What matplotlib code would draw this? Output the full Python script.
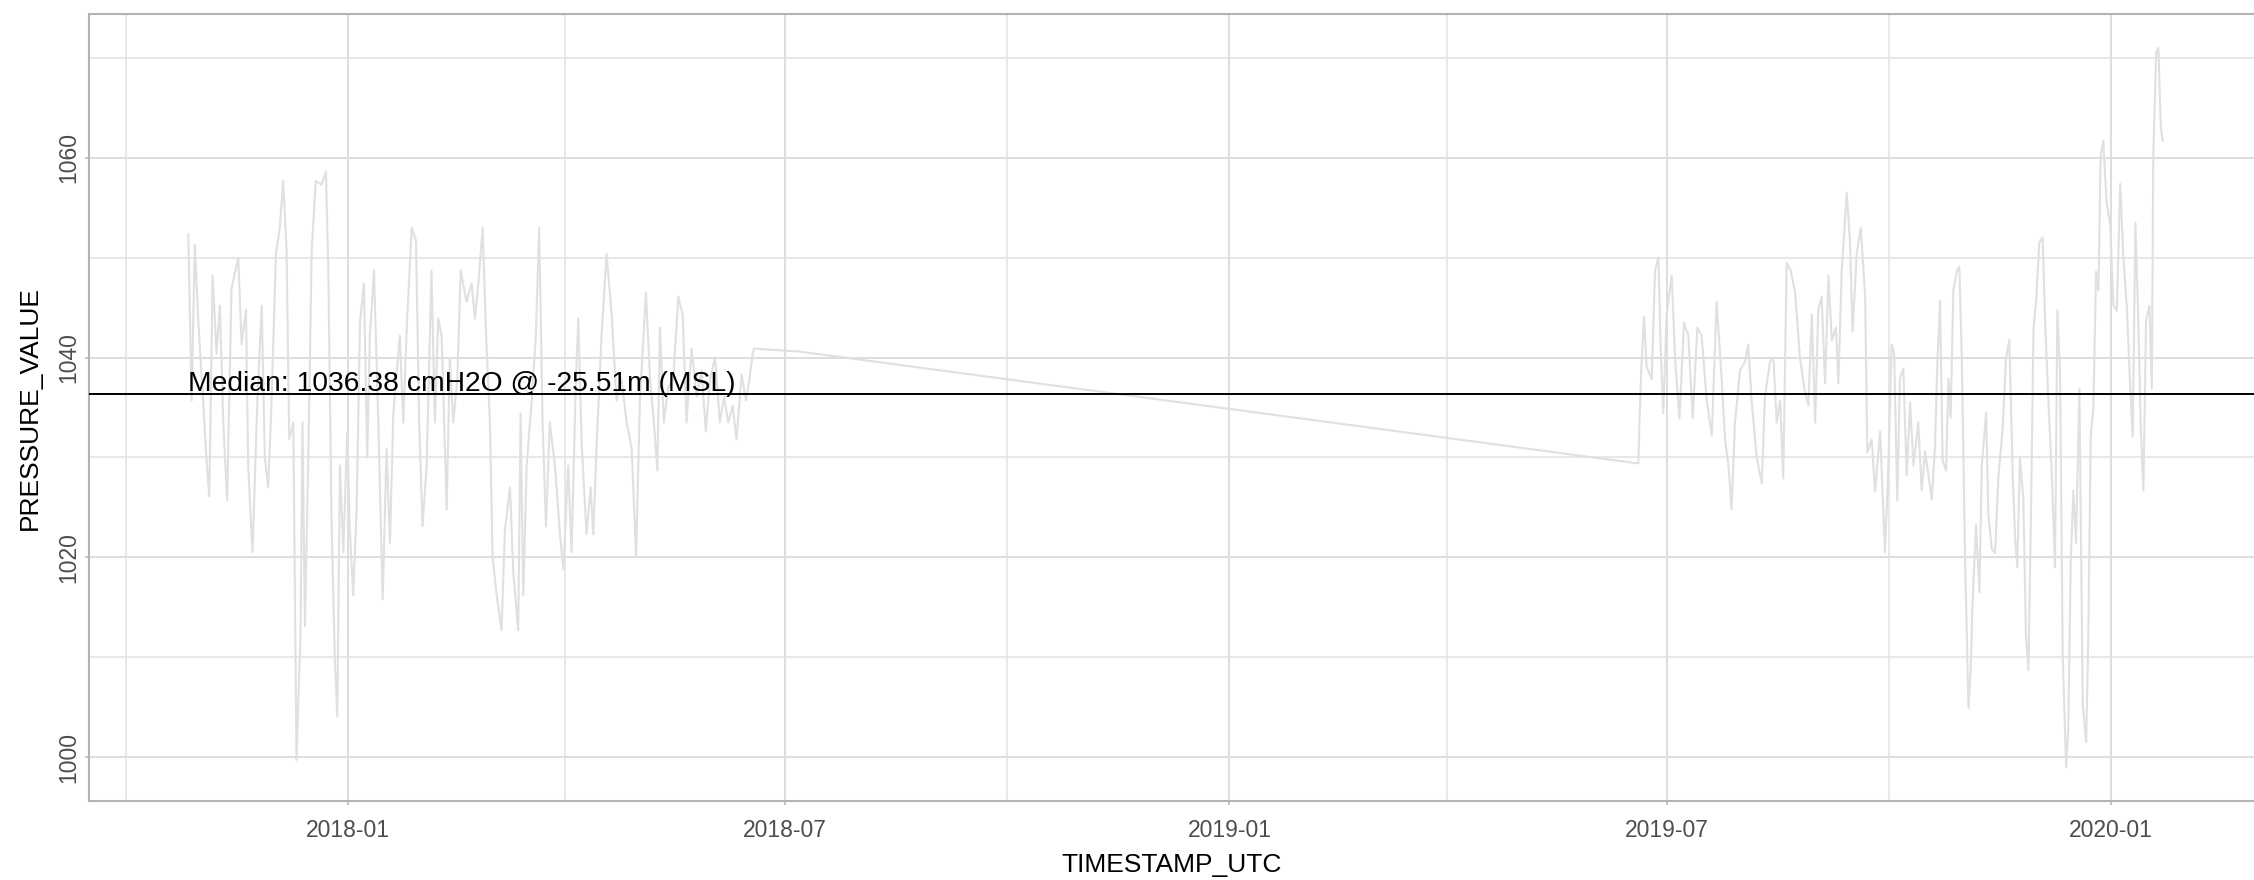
import numpy as np
import pandas as pd
import matplotlib
matplotlib.use('Agg')
import matplotlib.pyplot as plt
import matplotlib.dates as mdates
from matplotlib.ticker import MultipleLocator

plt.rcParams['font.family'] = ['Liberation Sans', 'DejaVu Sans']

# Datas: dias desde 2018-01-01
ORIGEM = pd.Timestamp('2018-01-01')

dias_inicio = [-66.1, -64.7, -63.4, -62.0, -58.5, -57.4, -56.0, -54.4, -53.0, -51.6,
               -50.0, -48.2, -45.4, -44.0, -42.2, -41.3, -39.5, -37.5, -35.7, -34.4,
               -33.0, -31.6, -29.8, -28.2, -26.8, -25.4, -24.3, -22.6, -21.3, -19.6,
               -18.8, -17.8, -16.4, -15.0, -13.3, -10.9, -9.1, -8.1, -6.8, -5.4,
               -4.4, -3.3, -1.9, -0.3, 0.8, 2.2, 3.6, 5.0, 6.6, 8.0,
               9.1, 10.8, 12.6, 14.4, 16.0, 17.4, 18.8, 21.5, 22.9, 24.6,
               26.4, 28.2, 29.5, 30.9, 32.6, 34.6, 36.0, 37.4, 38.8, 40.9,
               42.2, 43.6, 45.3, 46.7,
               49.1, 51.2, 52.6, 54.0, 55.8, 57.1, 58.8, 59.9, 61.6, 63.6,
               65.0, 67.1, 68.5, 70.5, 71.5, 72.6, 74.0, 76.1, 77.8, 79.2,
               80.6, 82.0, 83.6, 85.7, 87.8, 89.2, 91.2, 92.6, 94.4, 95.4,
               96.8, 98.8, 100.5, 101.6, 103.0, 105.0, 107.1, 109.2, 111.2, 113.3,
               115.4, 117.5, 119.3, 120.9, 123.4, 125.1, 126.7, 128.1, 129.2, 130.8,
               132.6, 134.7, 136.8, 138.6, 140.2, 142.3, 144.4, 146.4, 148.2, 149.9,
               152.0, 154.0, 155.7, 157.5, 159.3, 160.9, 163.0, 164.8, 166.2, 167.6]
pressao_inicio = [1052.3, 1035.7, 1051.3, 1043.9, 1029.6, 1026.1, 1048.2, 1040.4, 1045.2, 1033.5,
                  1025.7, 1046.9, 1050.0, 1041.3, 1044.8, 1029.2, 1020.5, 1035.7, 1045.2, 1030.0,
                  1027.0, 1035.7, 1050.4, 1053.0, 1057.7, 1050.8, 1031.8, 1033.5, 999.7, 1012.7,
                  1033.5, 1013.1, 1030.0, 1050.8, 1057.7, 1057.3, 1058.6, 1048.7, 1024.0, 1009.7,
                  1004.1, 1029.2, 1020.5, 1032.6, 1022.7, 1016.2, 1024.8, 1043.5, 1047.4, 1030.0,
                  1042.2, 1048.7, 1033.5, 1015.8, 1030.9, 1021.4, 1034.4, 1042.2, 1033.5, 1044.3,
                  1053.0, 1051.7, 1033.5, 1023.1, 1029.2, 1048.7, 1033.5, 1043.9, 1042.2, 1024.8,
                  1040.0, 1033.5, 1037.8, 1048.7,
                  1045.6, 1047.4, 1043.9, 1047.4, 1053.0, 1043.0, 1033.5, 1020.1, 1016.2, 1012.7,
                  1022.7, 1027.0, 1018.4, 1012.7, 1034.4, 1016.2, 1029.2, 1035.7, 1042.2, 1053.0,
                  1033.5, 1023.1, 1033.5, 1029.2, 1022.3, 1018.8, 1029.2, 1020.5, 1037.8, 1043.9,
                  1031.3, 1022.3, 1027.0, 1022.3, 1031.3, 1042.2, 1050.4, 1044.3, 1035.7, 1037.8,
                  1033.5, 1030.9, 1020.1, 1035.7, 1046.5, 1037.8, 1033.5, 1028.7, 1043.0, 1033.5,
                  1037.0, 1037.8, 1046.1, 1044.3, 1033.5, 1040.9, 1036.1, 1038.7, 1032.6, 1037.8,
                  1040.0, 1033.5, 1036.1, 1033.5, 1035.2, 1031.8, 1038.3, 1035.7, 1037.8, 1040.4]

# Intervalo sem medições (linha ligando os dois períodos)
dias_lacuna = [168.2, 187.0]
pressao_lacuna = [1040.9, 1040.6]

dias_fim = [534.3, 534.7, 535.7, 536.6, 537.7, 539.8, 541.2, 542.6, 543.5, 544.6,
            546.0, 548.1, 549.5, 551.3, 553.2, 555.0, 556.8, 558.7, 560.5, 562.6,
            564.7, 566.7, 568.8, 570.2, 571.6, 572.9, 574.3, 576.4, 578.5, 579.8,
            581.2, 583.3, 585.4, 586.7, 588.8, 590.2, 591.6, 593.0, 594.3, 595.7,
            597.4, 599.2, 601.2, 603.3, 604.7, 606.1, 607.5, 608.8, 610.2, 611.6,
            613.0, 614.4, 616.1, 617.1, 618.5, 620.6, 621.9, 623.0, 624.7, 626.4,
            628.2, 629.1, 630.9, 632.3, 634.4, 636.4, 637.8, 639.2, 640.2, 641.5,
            642.6, 644.0, 645.4, 646.8, 648.2, 650.2, 651.6, 653.0, 654.4, 655.8,
            657.1, 658.1, 659.2, 660.3, 661.7, 662.7, 663.6, 664.7, 666.1, 667.2,
            668.2, 669.6, 671.0, 671.9, 672.7, 674.1, 675.5, 676.5, 678.3, 679.2,
            680.6, 682.0, 683.4, 685.2, 686.5, 687.9, 689.3, 690.3, 691.2, 692.3,
            693.7, 694.8, 695.8, 696.8, 697.9, 699.0, 700.3, 701.7, 702.7, 704.1,
            705.5, 706.8, 707.8, 708.9, 710.0, 711.4, 712.3, 713.3, 714.4, 715.5,
            716.9, 718.3, 719.7, 720.6, 721.6, 722.7, 723.8, 724.8, 725.7, 726.8,
            728.2, 729.6, 731.0, 732.4, 733.8, 735.1, 736.5, 737.9, 739.0, 740.1,
            741.3, 742.3, 743.4, 744.5, 745.9, 746.9, 747.5, 748.7, 749.6, 750.6,
            751.4]
pressao_fim = [1029.4, 1033.1, 1040.0, 1044.1, 1039.1, 1037.8, 1048.7, 1050.0, 1041.3, 1034.4,
               1044.3, 1048.2, 1040.0, 1033.9, 1043.5, 1042.2, 1033.9, 1043.0, 1042.2, 1035.7,
               1032.2, 1045.6, 1037.8, 1031.8, 1029.2, 1024.8, 1033.5, 1038.7, 1039.6, 1041.3,
               1035.7, 1030.0, 1027.4, 1036.1, 1039.6, 1040.0, 1033.5, 1035.7, 1027.9, 1049.5,
               1048.7, 1046.5, 1040.0, 1036.5, 1035.2, 1044.3, 1033.5, 1044.8, 1046.1, 1037.4,
               1048.2, 1041.7, 1043.0, 1037.4, 1048.7, 1056.5, 1051.7, 1042.6, 1050.4, 1053.0,
               1046.1, 1030.5, 1031.8, 1026.6, 1032.6, 1020.5, 1029.2, 1041.3, 1040.4, 1025.7,
               1037.9, 1038.9, 1028.2, 1035.5, 1029.2, 1033.5, 1026.7, 1030.6, 1028.2, 1025.8,
               1031.1, 1039.4, 1045.7, 1029.6, 1028.7, 1037.9, 1034.0, 1046.7, 1048.6, 1049.1,
               1040.3, 1019.4, 1004.9, 1008.7, 1015.6, 1023.3, 1016.5, 1029.2, 1034.5, 1024.3,
               1020.9, 1020.4, 1028.2, 1033.1, 1039.9, 1041.8, 1028.2, 1021.9, 1019.0, 1030.1,
               1025.8, 1012.1, 1008.7, 1023.3, 1042.8, 1045.7, 1051.5, 1052.0, 1043.7, 1035.5,
               1028.2, 1019.0, 1044.7, 1038.4, 1010.2, 999.0, 1002.9, 1019.4, 1026.7, 1021.4,
               1036.9, 1005.3, 1001.5, 1012.1, 1032.1, 1035.0, 1048.6, 1046.7, 1060.3, 1061.7,
               1055.4, 1053.5, 1045.2, 1044.7, 1057.4, 1050.1, 1045.2, 1037.4, 1032.1, 1053.5,
               1043.7, 1033.1, 1026.7, 1043.7, 1045.2, 1036.9, 1060.3, 1070.5, 1071.0, 1063.2,
               1061.7]

MEDIANA = 1036.38
texto_mediana = 'Median: 1036.38 cmH2O @ -25.51m (MSL)'

dias = np.array(dias_inicio + dias_lacuna + dias_fim)
pressao = np.array(pressao_inicio + pressao_lacuna + pressao_fim)
datas = ORIGEM + pd.to_timedelta(dias, unit='D')

# Figura
W, H = 2254, 880
fig = plt.figure(figsize=(W / 100, H / 100), dpi=100)
esq, topo, base = 89, 14, 801
ax = fig.add_axes([esq / W, (H - base) / H, 1 - esq / W, (base - topo) / H])

ax.plot(datas, pressao, color='#e0e0e0', lw=1.5, zorder=2)
ax.axhline(MEDIANA, color='black', lw=1.4, zorder=3)
ax.text(datas[0], MEDIANA + 0.25, texto_mediana, fontsize=20.3, color='black',
        ha='left', va='baseline', zorder=4)

ax.set_xlim(ORIGEM - pd.Timedelta(days=107.2), ORIGEM + pd.Timedelta(days=789.2))
ax.set_ylim(995.6, 1074.4)

ax.xaxis.set_major_locator(mdates.MonthLocator(bymonth=[1, 7]))
ax.xaxis.set_minor_locator(mdates.MonthLocator(bymonth=[4, 10]))
ax.xaxis.set_major_formatter(mdates.DateFormatter('%Y-%m'))
ax.yaxis.set_major_locator(MultipleLocator(20))
ax.yaxis.set_minor_locator(MultipleLocator(10))

ax.grid(which='major', color='#dedede', lw=1.4, zorder=0)
ax.grid(which='minor', color='#e2e2e2', lw=1.1, zorder=0)
ax.set_axisbelow(True)

for lado in ['left', 'top', 'bottom']:
    ax.spines[lado].set_color('#b3b3b3')
    ax.spines[lado].set_linewidth(1.5)
ax.spines['right'].set_visible(False)

ax.tick_params(which='major', color='#b3b3b3', length=3, width=1.1,
               labelcolor='#4d4d4d', labelsize=16.5)
ax.tick_params(which='minor', length=0)
ax.tick_params(axis='x', pad=10)
ax.tick_params(axis='y', pad=3)
for lbl in ax.get_yticklabels():
    lbl.set_rotation(90)
    lbl.set_va('center')

ax.set_xlabel('TIMESTAMP_UTC', fontsize=19, color='black')
ax.set_ylabel('PRESSURE_VALUE', fontsize=19, color='black')
ax.xaxis.label.set_va('center')
ax.yaxis.label.set_va('center')
ax.xaxis.set_label_coords(0.5, -(865 - base) / (base - topo))
ax.yaxis.set_label_coords((30 - esq) / (W - esq), 0.5)

plt.savefig('out.png', dpi=100)
